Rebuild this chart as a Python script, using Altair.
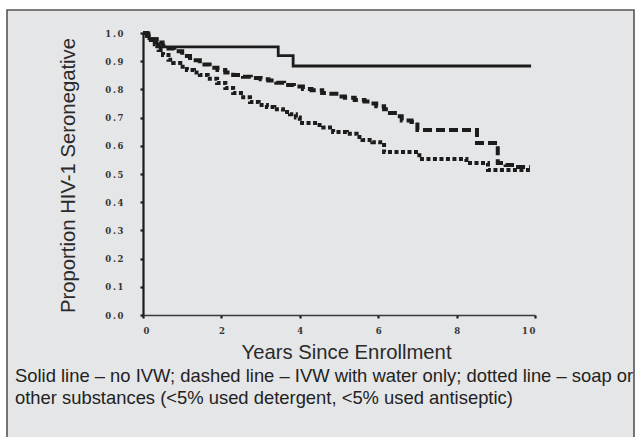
import altair as alt
import pandas as pd

# Kaplan-Meier step curves: years since enrollment vs. proportion seronegative
solid_t = [0, 0.15, 0.35, 3.45, 3.83, 9.9]
solid_s = [1.0, 0.98, 0.951, 0.92, 0.883, 0.883]

dashed_t = [0, 0.1, 0.2, 0.35, 0.5, 0.65, 0.8, 1.0, 1.2, 1.45, 1.7, 1.9, 2.1, 2.3,
            2.55, 2.75, 3.0, 3.2, 3.4, 3.6, 3.85, 4.08, 4.3, 4.57, 4.75, 5.0, 5.15,
            5.4, 5.65, 5.8, 5.95, 6.15, 6.3, 6.5, 6.6, 6.85, 7.0, 8.52, 9.05, 9.25,
            9.5, 9.87]
dashed_s = [1.0, 0.99, 0.978, 0.966, 0.955, 0.945, 0.935, 0.918, 0.903, 0.888, 0.877,
            0.869, 0.86, 0.851, 0.845, 0.84, 0.836, 0.832, 0.824, 0.816, 0.81, 0.801,
            0.797, 0.787, 0.785, 0.775, 0.77, 0.762, 0.757, 0.75, 0.74, 0.73, 0.716,
            0.705, 0.69, 0.684, 0.656, 0.61, 0.539, 0.532, 0.525, 0.525]

dotted_t = [0, 0.1, 0.2, 0.3, 0.4, 0.51, 0.65, 0.77, 0.95, 1.12, 1.3, 1.45, 1.65, 1.89,
            2.1, 2.3, 2.5, 2.73, 2.95, 3.16, 3.35, 3.57, 3.75, 3.9, 4.0, 4.45, 4.6,
            4.85, 5.2, 5.45, 5.6, 5.85, 6.05, 6.15, 7.05, 8.25, 8.8, 9.87]
dotted_s = [1.0, 0.99, 0.975, 0.96, 0.94, 0.922, 0.905, 0.894, 0.88, 0.869, 0.86, 0.851,
            0.838, 0.823, 0.805, 0.787, 0.772, 0.755, 0.745, 0.738, 0.73, 0.72, 0.712,
            0.7, 0.681, 0.674, 0.665, 0.649, 0.643, 0.631, 0.621, 0.613, 0.603, 0.578,
            0.553, 0.539, 0.514, 0.514]

groups = ["no IVW", "water only", "soap or other"]
x_ticks = [0, 2, 4, 6, 8, 10]
y_ticks = [0.0, 0.1, 0.2, 0.3, 0.4, 0.5, 0.6, 0.7, 0.8, 0.9, 1.0]

caption_lines = [
    "Solid line \u2013 no IVW; dashed line \u2013 IVW with water only; dotted line \u2013 soap or",
    "other substances (<5% used detergent, <5% used antiseptic)",
]

frames = []
for g, ts, ss in zip(groups, [solid_t, dashed_t, dotted_t], [solid_s, dashed_s, dotted_s]):
    frames.append(pd.DataFrame({"group": g, "t": ts, "s": ss}))
df = pd.concat(frames, ignore_index=True)

W, H = 392, 282
PAD_L, PAD_T = 143, 33
INK = "#1c1c1c"

x_scale = alt.Scale(domain=[0, 10], nice=False)
y_scale = alt.Scale(domain=[0, 1], nice=False)

# Tick labels are set loosely spaced, as in the printed figure
x_axis = alt.Axis(
    values=x_ticks, format="d", title="Years Since Enrollment",
    labelExpr="datum.value == 10 ? '1\u20090' : datum.label",
    titleX=203, titleY=43, titleBaseline="alphabetic",
    domainColor="#3a3a3a", domainWidth=1.6,
    tickColor=INK, tickWidth=2.2, tickSize=3, labelPadding=8, zindex=2,
)
y_axis = alt.Axis(
    values=y_ticks, format=".1f", title="Proportion HIV-1 Seronegative",
    labelExpr="replace(datum.label, '.', '\u2009.\u2009')",
    titleX=-75, titleY=142, titleBaseline="middle", titleAlign="center",
    domainColor=INK, domainWidth=2.2,
    tickColor=INK, tickWidth=2.2, tickSize=3, labelPadding=17, zindex=2,
)

# Grey panel with a thin frame behind the plot
panel = alt.Chart(pd.DataFrame({"k": [0]})).mark_rect(
    fill="#e5e6e8", stroke="#555555", strokeWidth=1.6
).encode(
    x=alt.value(7 - PAD_L),
    x2=alt.value(634 - PAD_L),
    y=alt.value(10 - PAD_T),
    y2=alt.value(437 - PAD_T + 10),
)

def curve(group, dash, width):
    return alt.Chart(df).transform_filter(
        alt.datum.group == group
    ).mark_line(
        interpolate="step-after", color=INK, strokeWidth=width,
        strokeDash=dash, strokeCap="butt"
    ).encode(
        x=alt.X("t:Q", scale=x_scale, axis=x_axis),
        y=alt.Y("s:Q", scale=y_scale, axis=y_axis),
    )

solid = curve("no IVW", [1, 0], 2.8)
dashed = curve("water only", [9, 4], 4)
dotted = curve("soap or other", [4, 2.5], 4)

caption = alt.Chart(pd.DataFrame({"k": [0]})).mark_text(
    text=caption_lines, align="left", baseline="alphabetic",
    font="Liberation Sans", fontSize=18.4, lineHeight=22, color="#222222",
).encode(
    x=alt.value(15 - PAD_L),
    y=alt.value(382 - PAD_T),
)

chart = alt.layer(panel, solid, dashed, dotted, caption).properties(
    width=W, height=H,
    padding={"left": PAD_L, "top": PAD_T, "right": 635 - PAD_L - W, "bottom": 437 - PAD_T - H},
    autosize=alt.AutoSizeParams(type="none"),
    background="white",
).configure_view(stroke=None).configure_axis(
    grid=False,
    labelFont="DejaVu Serif", labelFontWeight="bold", labelFontSize=8.5,
    labelColor="#333333",
    titleFont="Liberation Sans", titleFontWeight="normal", titleFontSize=20.3,
    titleColor="#2a2a2a",
)

chart.save("out.html", embed_options={"renderer": "svg", "actions": False})
